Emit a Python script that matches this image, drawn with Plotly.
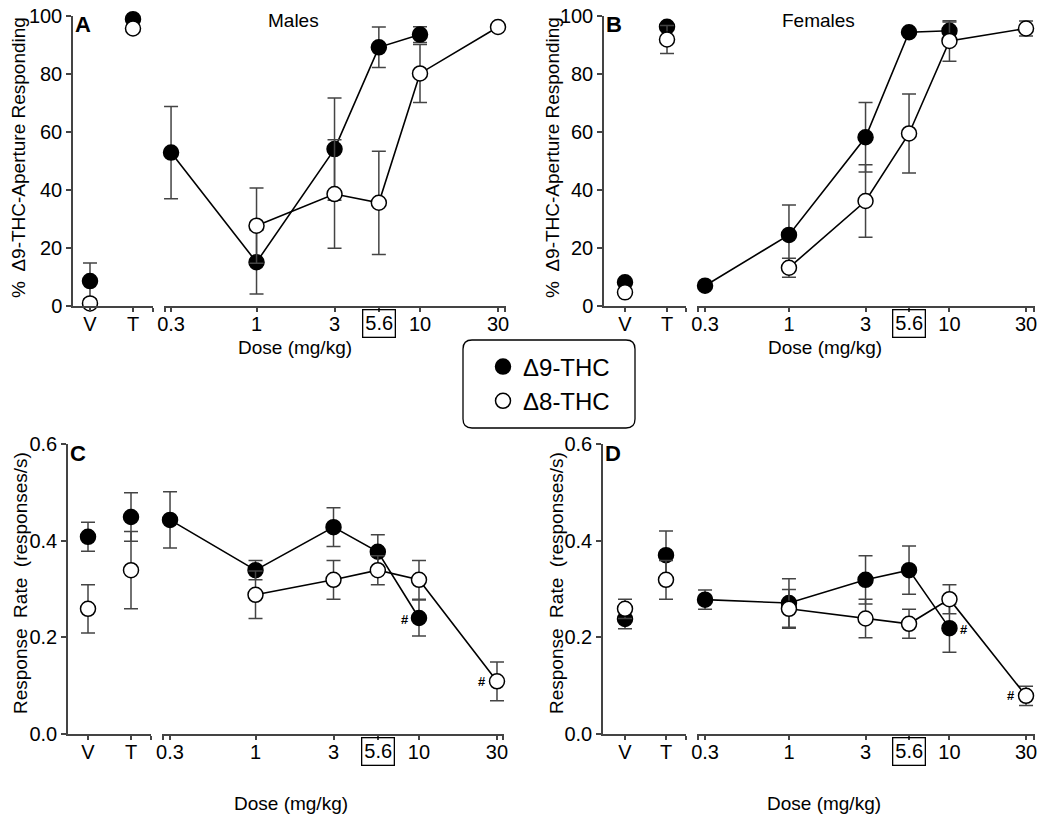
import math
import plotly.graph_objects as go

W, H = 1050, 821
OFF = 8  # page body margin of the written html

# ---------------- data ----------------
doses = [0.3, 1, 3, 5.6, 10, 30]
dose_ticktext = ["0.3", "1", "3", "", "10", "30"]
ctrl_labels = ["V", "T"]
ctrl_x = [0, 1]

# Panel A (Males, % drug-aperture responding)
A_d9 = [52.9, 15.1, 54.1, 89.2, 93.6, None]
A_d9_err = [15.9, 11.0, 17.6, 7.0, 2.7, 0]
A_d8 = [None, 27.7, 38.6, 35.6, 80.2, 96.2]
A_d8_err = [0, 13.0, 18.7, 17.8, 10.0, 0]
A_d9_ctrl = [8.6, 98.9]
A_d9_ctrl_err = [6.2, 0]
A_d8_ctrl = [0.9, 95.7]
A_d8_ctrl_err = [0, 0]

# Panel B (Females, % drug-aperture responding)
B_d9 = [7.0, 24.5, 58.2, 94.4, 94.9, None]
B_d9_err = [0, 10.3, 12.0, 0, 3.0, 0]
B_d8 = [None, 13.2, 36.2, 59.5, 91.4, 95.7]
B_d8_err = [0, 3.3, 12.5, 13.6, 7.0, 2.6]
B_d9_ctrl = [8.2, 96.3]
B_d9_ctrl_err = [0, 0]
B_d8_ctrl = [4.7, 91.9]
B_d8_ctrl_err = [0, 4.8]

# Panel C (Males, response rate)
C_d9 = [0.443, 0.339, 0.428, 0.377, 0.240, None]
C_d9_err = [0.058, 0.020, 0.040, 0.035, 0.037, 0]
C_d8 = [None, 0.288, 0.319, 0.339, 0.319, 0.109]
C_d8_err = [0, 0.049, 0.040, 0.030, 0.040, 0.040]
C_d9_ctrl = [0.408, 0.449]
C_d9_ctrl_err = [0.030, 0.050]
C_d8_ctrl = [0.259, 0.339]
C_d8_ctrl_err = [0.050, 0.080]

# Panel D (Females, response rate)
D_d9 = [0.278, 0.271, 0.319, 0.339, 0.219, None]
D_d9_err = [0.020, 0.050, 0.050, 0.050, 0.050, 0]
D_d8 = [None, 0.259, 0.239, 0.228, 0.279, 0.079]
D_d8_err = [0, 0.040, 0.040, 0.030, 0.030, 0.020]
D_d9_ctrl = [0.238, 0.370]
D_d9_ctrl_err = [0.020, 0.050]
D_d8_ctrl = [0.259, 0.319]
D_d8_ctrl_err = [0.020, 0.040]

y_pct_ticks = [0, 20, 40, 60, 80, 100]
y_rate_ticks = [0.0, 0.2, 0.4, 0.6]

FONT = "Arial, Liberation Sans, sans-serif"
AX = "#444444"


def px(x):
    return (x - OFF) / W


def py(y):
    return 1 - (y - OFF) / H


# panel layout: (seg1 px, seg2 px, y px (bottom, top), seg1 range, seg2 log range)
panels = [
    dict(key="A", s1=(73, 153), s2=(164, 506), yp=(306, 16), r1=[-0.395, 1.465], r2=[-0.566, 1.526],
         yr=[0, 100], yt=y_pct_ticks, yfmt="d",
         d9=A_d9, d9e=A_d9_err, d8=A_d8, d8e=A_d8_err,
         c9=A_d9_ctrl, c9e=A_d9_ctrl_err, c8=A_d8_ctrl, c8e=A_d8_ctrl_err),
    dict(key="B", s1=(604, 686), s2=(697, 1035), yp=(306, 16), r1=[-0.5, 1.452], r2=[-0.573, 1.533],
         yr=[0, 100], yt=y_pct_ticks, yfmt="d",
         d9=B_d9, d9e=B_d9_err, d8=B_d8, d8e=B_d8_err,
         c9=B_d9_ctrl, c9e=B_d9_ctrl_err, c8=B_d8_ctrl, c8e=B_d8_ctrl_err),
    dict(key="C", s1=(68, 151), s2=(162, 504), yp=(734, 444), r1=[-0.465, 1.465], r2=[-0.572, 1.520],
         yr=[0, 0.6], yt=y_rate_ticks, yfmt=".1f",
         d9=C_d9, d9e=C_d9_err, d8=C_d8, d8e=C_d8_err,
         c9=C_d9_ctrl, c9e=C_d9_ctrl_err, c8=C_d8_ctrl, c8e=C_d8_ctrl_err),
    dict(key="D", s1=(603, 686), s2=(697, 1035), yp=(734, 444), r1=[-0.537, 1.488], r2=[-0.573, 1.533],
         yr=[0, 0.6], yt=y_rate_ticks, yfmt=".1f",
         d9=D_d9, d9e=D_d9_err, d8=D_d8, d8e=D_d8_err,
         c9=D_d9_ctrl, c9e=D_d9_ctrl_err, c8=D_d8_ctrl, c8e=D_d8_ctrl_err),
]

fig = go.Figure()
layout = {}
annotations = []

filled = dict(color="black", size=15, line=dict(color="black", width=1.5))
opened = dict(color="white", size=15, line=dict(color="black", width=1.5))


def err(arr):
    return dict(type="data", array=arr, color=AX, thickness=1.5, width=7, visible=True)


def txt(x, y, text, size=19, **kw):
    d = dict(x=px(x), y=py(y), xref="paper", yref="paper", text=text, showarrow=False,
             xanchor="center", yanchor="middle", font=dict(family=FONT, size=size, color="black"))
    d.update(kw)
    return d


for i, p in enumerate(panels):
    xa1 = 2 * i + 1
    xa2 = 2 * i + 2
    ya = i + 1
    xn1 = "x" if xa1 == 1 else f"x{xa1}"
    xn2 = f"x{xa2}"
    yn = "y" if ya == 1 else f"y{ya}"
    ydom = [py(p["yp"][0]), py(p["yp"][1])]

    common_x = dict(showline=True, linecolor=AX, linewidth=1.5, ticks="outside", ticklen=4,
                    tickwidth=1.5, tickcolor=AX, showgrid=False, zeroline=False, automargin=False,
                    ticklabelstandoff=-5, ticklabeloverflow="allow",
                    tickfont=dict(family=FONT, size=20, color="black"), anchor=yn, fixedrange=True)
    layout["xaxis" if xa1 == 1 else f"xaxis{xa1}"] = dict(
        common_x, domain=[px(p["s1"][0]), px(p["s1"][1])], range=p["r1"],
        tickmode="array", tickvals=ctrl_x + [p["r1"][1] - 0.01], ticktext=ctrl_labels + [""])
    cap_l = 10 ** (p["r2"][0] + 0.004)
    cap_r = 10 ** (p["r2"][1] - 0.004)
    layout[f"xaxis{xa2}"] = dict(
        common_x, type="log", domain=[px(p["s2"][0]), px(p["s2"][1])], range=p["r2"],
        tickmode="array", tickvals=[cap_l] + doses + [cap_r], ticktext=[""] + dose_ticktext + [""])
    layout["yaxis" if ya == 1 else f"yaxis{ya}"] = dict(
        domain=ydom, range=p["yr"], anchor=xn1, showline=True, linecolor=AX, linewidth=1.5,
        ticks="outside", ticklen=5, tickwidth=1.5, tickcolor=AX, showgrid=False, zeroline=False,
        tickmode="array", tickvals=p["yt"], tickformat=p["yfmt"], automargin=False,
        ticklabeloverflow="allow",
        tickfont=dict(family=FONT, size=20, color="black"), fixedrange=True)

    # Δ9 dose-effect
    fig.add_trace(go.Scatter(x=doses, y=p["d9"], error_y=err(p["d9e"]), mode="lines+markers",
                             line=dict(color="black", width=1.6), marker=filled, xaxis=xn2, yaxis=yn,
                             cliponaxis=False, showlegend=False, hoverinfo="skip"))
    fig.add_trace(go.Scatter(x=ctrl_x, y=p["c9"], error_y=err(p["c9e"]), mode="markers",
                             marker=filled, xaxis=xn1, yaxis=yn, cliponaxis=False,
                             showlegend=False, hoverinfo="skip"))
    # Δ8 dose-effect
    fig.add_trace(go.Scatter(x=doses, y=p["d8"], error_y=err(p["d8e"]), mode="lines+markers",
                             line=dict(color="black", width=1.6), marker=opened, xaxis=xn2, yaxis=yn,
                             cliponaxis=False, showlegend=False, hoverinfo="skip"))
    fig.add_trace(go.Scatter(x=ctrl_x, y=p["c8"], error_y=err(p["c8e"]), mode="markers",
                             marker=opened, xaxis=xn1, yaxis=yn, cliponaxis=False,
                             showlegend=False, hoverinfo="skip"))

    # boxed 5.6 tick label
    annotations.append(dict(x=math.log10(doses[3]), xref=xn2, y=py(p["yp"][0] + 17), yref="paper",
                            text="5.6", showarrow=False, font=dict(family=FONT, size=20, color="black"),
                            bordercolor="black", borderwidth=1.3, borderpad=2,
                            xanchor="center", yanchor="middle"))
    # panel letter
    annotations.append(txt(p["s1"][0] + 10, p["yp"][1] + 9, f"<b>{p['key']}</b>", size=22))
    # x-axis title
    annotations.append(txt((p["s1"][0] + p["s2"][1]) / 2 + 5,
                           p["yp"][0] + 41 if i < 2 else p["yp"][0] + 69, "Dose (mg/kg)"))

# y titles
annotations += [
    txt(18, 158, "%  \u03949-THC-Aperture Responding", textangle=-90),
    txt(552, 158, "%  \u03949-THC-Aperture Responding", textangle=-90),
    txt(20, 583, "Response  Rate  (responses/s)", textangle=-90),
    txt(556, 583, "Response  Rate  (responses/s)", textangle=-90),
]

# panel headings
annotations.append(txt(293, 20, "Males"))
annotations.append(txt(818, 20, "Females"))

# significance marks
hash_font = dict(family=FONT, size=13, color="black")
annotations += [
    dict(x=math.log10(doses[4]), y=C_d9[4], xref="x6", yref="y3", text="<b>#</b>", xshift=-14, yshift=-1),
    dict(x=math.log10(doses[5]), y=C_d8[5], xref="x6", yref="y3", text="<b>#</b>", xshift=-15, yshift=0),
    dict(x=math.log10(doses[4]), y=D_d9[4], xref="x8", yref="y4", text="<b>#</b>", xshift=15, yshift=-1),
    dict(x=math.log10(doses[5]), y=D_d8[5], xref="x8", yref="y4", text="<b>#</b>", xshift=-15, yshift=0),
]
for a in annotations[-4:]:
    a.update(showarrow=False, font=hash_font, xanchor="center", yanchor="middle")

# legend entries
fig.add_trace(go.Scatter(x=[None], y=[None], mode="markers", marker=filled, name="\u03949-THC",
                         showlegend=True, xaxis="x2", yaxis="y"))
fig.add_trace(go.Scatter(x=[None], y=[None], mode="markers", marker=opened, name="\u03948-THC",
                         showlegend=True, xaxis="x2", yaxis="y"))

# rounded legend box
x0, y0, x1, y1, r = px(463), py(340), px(635), py(428), 9
rx, ry = r / W, r / H
path = (f"M {x0+rx},{y0} L {x1-rx},{y0} Q {x1},{y0} {x1},{y0-ry} "
        f"L {x1},{y1+ry} Q {x1},{y1} {x1-rx},{y1} "
        f"L {x0+rx},{y1} Q {x0},{y1} {x0},{y1+ry} "
        f"L {x0},{y0-ry} Q {x0},{y0} {x0+rx},{y0} Z")

fig.update_layout(
    template="none",
    width=W, height=H, margin=dict(l=0, r=0, t=0, b=0, pad=0, autoexpand=False),
    paper_bgcolor="white", plot_bgcolor="white",
    font=dict(family=FONT, color="black"),
    annotations=annotations,
    shapes=[dict(type="path", path=path, xref="paper", yref="paper",
                 line=dict(color="black", width=1.3), fillcolor="rgba(0,0,0,0)")],
    legend=dict(x=px(549), y=py(384), xanchor="center", yanchor="middle",
                font=dict(family=FONT, size=24, color="black"), bgcolor="rgba(0,0,0,0)",
                borderwidth=0, itemsizing="trace", tracegroupgap=0),
    showlegend=True,
    **layout,
)

fig.write_html("out.html")
